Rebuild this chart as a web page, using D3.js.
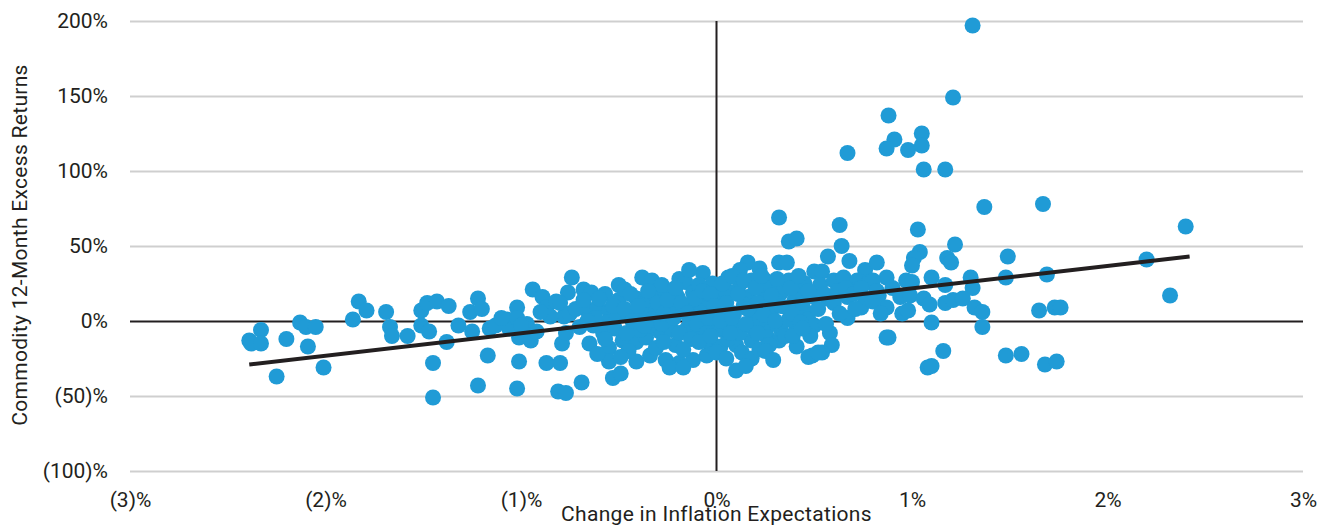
<!DOCTYPE html>
<html>
<head>
<meta charset="utf-8">
<script src="https://cdn.jsdelivr.net/npm/d3@7"></script>
<style>
  body { margin: 0; background: #fff; }
  svg text { font-family: Roboto, "DejaVu Sans", sans-serif; fill: #231f20; }
</style>
</head>
<body>
<div id="chart"></div>
<script>
// change in inflation expectations (%) for each observation
const inflationChange = [
  -2.39,-2.38,-2.33,-2.33,-2.25,-2.20,-2.13,-2.10,-2.09,-2.05,-2.01,-1.86,-1.83,-1.79,-1.69,-1.67,-1.66,-1.58,-1.51,-1.48,
  -1.51,-1.47,-1.43,-1.37,-1.45,-1.45,-1.38,-1.32,-1.26,-1.25,-1.22,-1.20,-1.22,-1.17,-1.16,-1.13,-1.07,-1.06,-1.02,-1.02,
  -1.01,-1.02,-1.01,-0.95,-0.94,-0.89,-0.87,-0.82,-0.87,-0.80,-0.81,-0.77,-0.79,-0.78,-0.74,-0.77,-0.76,-0.68,-0.64,-0.57,
  -0.50,-0.38,-0.33,-0.19,-0.16,-0.07,-0.02,-0.80,-0.75,-0.66,-0.61,-0.55,-0.50,-0.41,-0.36,-0.31,-0.26,-0.20,-0.12,-0.05,
  -0.70,-0.63,-0.56,-0.51,-0.45,-0.38,-0.31,-0.24,-0.17,-0.10,-0.04,-0.65,-0.55,-0.48,-0.41,-0.36,-0.29,-0.23,-0.15,-0.09,
  -0.02,-0.55,-0.41,-0.34,-0.26,-0.19,-0.12,-0.05,-0.02,-0.53,-0.49,-0.69,-0.24,-0.17,-0.47,-0.28,-0.14,-0.09,-0.34,-0.14,
  -0.06,-0.21,-0.39,
  0.32,0.37,0.41,0.63,0.64,0.57,0.16,0.22,0.32,0.36,0.50,0.54,0.68,0.76,0.06,0.12,0.18,0.25,0.37,0.45,
  0.53,0.60,0.65,0.72,0.78,0.01,0.07,0.16,0.25,0.33,0.41,0.50,0.57,0.67,0.76,-0.01,0.09,0.19,0.28,0.36,
  0.45,0.47,0.67,0.74,0.03,0.09,0.18,0.26,0.33,0.41,0.50,0.58,0.59,0.41,0.49,0.54,0.02,0.10,0.13,0.18,
  0.18,0.26,0.32,0.10,0.00,0.47,0.52,0.87,0.04,0.14,0.22,0.30,0.37,0.12,0.27,0.04,0.22,0.40,
  1.37,1.03,1.22,1.04,1.01,1.00,1.18,1.20,0.82,0.87,0.80,0.97,1.00,1.10,1.17,1.30,1.31,0.90,0.83,0.94,
  0.99,1.06,1.09,1.17,1.21,1.26,1.32,1.36,0.87,0.95,0.98,1.10,1.36,0.88,1.16,1.08,1.10,1.31,1.21,0.88,
  0.91,0.87,0.98,1.05,1.05,1.06,1.17,0.67,1.67,1.69,1.49,1.48,1.65,1.73,1.76,1.48,1.56,1.68,1.74,2.20,
  2.32,2.40,
  // dense core, left of zero
  -0.72,-0.68,-0.62,-0.60,-0.58,-0.53,-0.52,-0.47,-0.46,-0.44,-0.43,-0.40,-0.37,-0.35,-0.33,-0.30,-0.28,-0.27,-0.25,-0.22,
  -0.21,-0.19,-0.18,-0.15,-0.13,-0.11,-0.10,-0.08,-0.07,-0.05,-0.04,-0.03,-0.01,-0.45,-0.31,-0.27,-0.17,-0.09,-0.03,-0.57,
  -0.61,-0.49,-0.66,-0.85,-0.90,-0.97,-0.92,-1.10,-1.00,
  // dense core, right of zero
  0.02,0.03,0.05,0.06,0.08,0.08,0.11,0.12,0.14,0.15,0.16,0.20,0.21,0.21,0.23,0.24,0.27,0.28,0.30,0.31,
  0.33,0.35,0.38,0.39,0.42,0.43,0.44,0.47,0.48,0.52,0.55,0.56,0.60,0.62,0.63,0.66,0.70,0.71,0.74,0.80,
  0.82,0.84,0.05,0.07,0.15,0.25,0.29,0.39,0.44
];

// commodity 12-month excess return (%) for the same observations
const excessReturn = [
  -13,-15,-6,-15,-37,-12,-1,-4,-17,-4,-31,1,13,7,6,-4,-10,-10,7,12,
  -3,-7,13,10,-28,-51,-14,-3,6,-7,15,8,-43,-23,-5,-3,1,-5,9,2,
  -27,-45,-11,-13,21,16,9,13,-28,-28,-47,-48,-15,3,29,-8,19,21,19,18,
  24,29,27,28,26,32,25,12,5,7,9,7,14,15,12,17,19,16,19,15,
  -4,-3,-1,3,4,5,6,9,9,11,9,-15,-18,-13,-14,-11,-7,-6,-5,-5,
  -6,-27,-27,-23,-26,-28,-26,-23,-17,-38,-35,-41,-31,-31,21,24,34,24,-3,2,
  -13,-16,-6,
  69,53,55,64,50,43,39,35,39,39,33,33,40,34,29,25,27,27,27,25,
  24,27,29,27,26,14,19,16,16,19,17,16,15,16,15,3,5,5,7,9,
  7,1,2,9,-6,-4,-4,-4,-6,-5,-3,-8,-16,-17,-23,-21,-17,-16,-21,-25,
  -13,-11,-13,-33,-21,-24,-21,-11,21,11,1,14,1,34,24,7,-19,14,
  76,61,51,46,42,37,42,39,39,29,27,27,26,29,24,29,22,22,17,16,
  17,15,11,12,14,15,9,6,9,5,7,-1,-4,-11,-20,-31,-30,197,149,137,
  121,115,114,125,117,101,101,112,78,31,43,29,7,9,9,-23,-22,-29,-27,41,
  17,63,
  // dense core, left of zero
  8,14,2,15,-8,10,-5,8,-8,18,0,10,-3,20,1,12,-2,5,14,2,
  22,-8,12,5,-12,15,-2,5,20,-8,2,18,10,-20,-18,-14,-19,-14,-10,-12,
  -22,-24,0,3,6,-2,-7,2,-3,
  // dense core, right of zero
  0,25,12,-12,30,2,18,-8,27,-2,8,22,12,-8,30,4,-16,17,0,28,
  10,-10,22,5,30,-1,12,20,-10,8,18,-2,12,20,5,22,18,8,22,13,
  20,5,-25,-8,-30,-20,-26,-10,-5
];

// fitted trend line end points
const trendX = [-2.39, 2.42];
const trendY = [-29, 43];

const xTicks = [-3, -2, -1, 0, 1, 2, 3];
const yTicks = [-100, -50, 0, 50, 100, 150, 200];

const width = 1328, height = 529;
const margin = {top: 21, right: 25, bottom: 58, left: 130};

const svg = d3.select("#chart").append("svg")
    .attr("width", width)
    .attr("height", height);

const x = d3.scaleLinear().domain([-3, 3]).range([margin.left, width - margin.right]);
const y = d3.scaleLinear().domain([-100, 200]).range([height - margin.bottom, margin.top]);

const pct = d => d < 0 ? "(" + Math.abs(d) + ")%" : d + "%";

// horizontal grid + y labels
const yAxis = svg.append("g")
    .attr("transform", "translate(" + margin.left + ",0)")
    .call(d3.axisLeft(y).tickValues(yTicks).tickFormat(pct)
        .tickSize(-(width - margin.left - margin.right)).tickPadding(22));
yAxis.select(".domain").remove();
yAxis.selectAll("line")
    .attr("stroke", d => d === 0 ? "#231f20" : "#cfcfcf")
    .attr("stroke-width", 2);
yAxis.selectAll("text").style("font-size", "21px").attr("fill", "#231f20");

// x labels
const xAxis = svg.append("g")
    .attr("transform", "translate(0," + (height - margin.bottom) + ")")
    .call(d3.axisBottom(x).tickValues(xTicks).tickFormat(pct).tickSize(0).tickPadding(21));
xAxis.select(".domain").remove();
xAxis.selectAll("text").style("font-size", "21px").attr("fill", "#231f20");

// vertical zero line
svg.append("line")
    .attr("x1", x(0)).attr("x2", x(0))
    .attr("y1", y(200)).attr("y2", y(-100))
    .attr("stroke", "#231f20")
    .attr("stroke-width", 2);

// points
svg.append("g").selectAll("circle")
    .data(inflationChange.map((d, i) => [d, excessReturn[i]]))
    .join("circle")
    .attr("cx", d => x(d[0]))
    .attr("cy", d => y(d[1]))
    .attr("r", 8)
    .attr("fill", "#209bd6");

// trend line
svg.append("path")
    .datum(trendX.map((d, i) => [d, trendY[i]]))
    .attr("d", d3.line().x(d => x(d[0])).y(d => y(d[1])))
    .attr("fill", "none")
    .attr("stroke", "#231f20")
    .attr("stroke-width", 4);

// axis titles
svg.append("text")
    .attr("x", x(0))
    .attr("y", 521)
    .attr("text-anchor", "middle")
    .style("font-size", "21px")
    .style("letter-spacing", "0.3px")
    .text("Change in Inflation Expectations");

svg.append("text")
    .attr("transform", "translate(27," + 245 + ") rotate(-90)")
    .attr("text-anchor", "middle")
    .style("font-size", "21px")
    .style("letter-spacing", "0.3px")
    .text("Commodity 12-Month Excess Returns");
</script>
</body>
</html>
